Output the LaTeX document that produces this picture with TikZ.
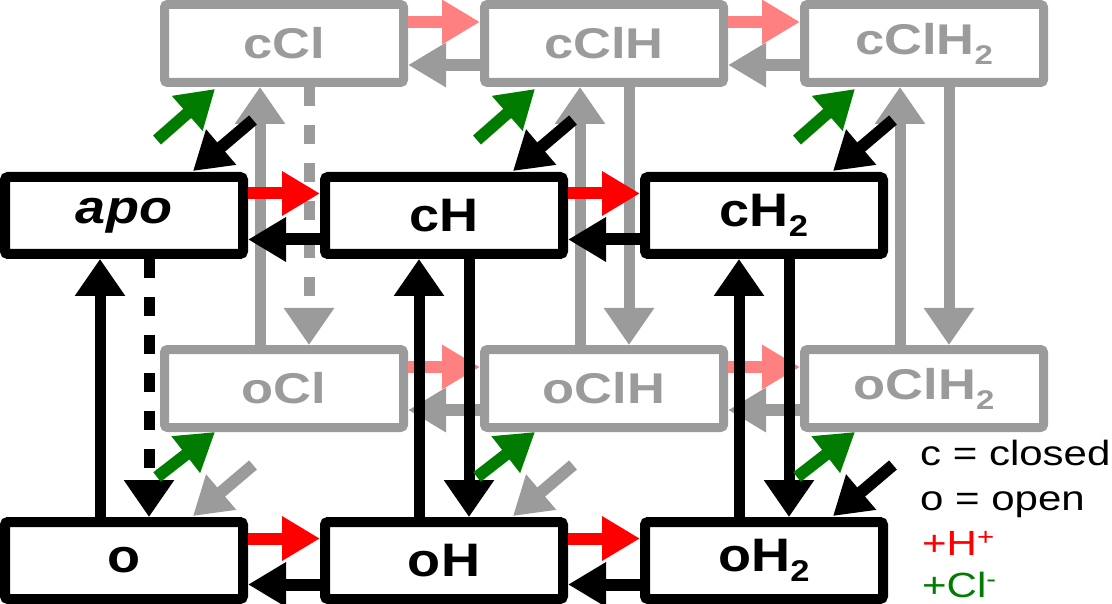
\documentclass[tikz,border=0pt]{standalone}
\usepackage{fontspec}
\setmainfont{Liberation Sans}
\usetikzlibrary{arrows.meta}
\definecolor{gr}{RGB}{155,155,155}
\definecolor{pk}{RGB}{255,128,128}
\definecolor{rd}{RGB}{255,0,0}
\definecolor{gn}{RGB}{0,125,0}
\newcommand{\dn}[2]{\raisebox{-10pt}{\fontsize{#1}{#1}\selectfont #2}}
\newcommand{\wb}[1]{\scalebox{1.15}[1]{#1}}
\newcommand{\wg}[1]{\scalebox{1.22}[1]{#1}}
\newcommand{\wl}[1]{\scalebox{1.2}[1]{#1}}
\tikzset{
  bbox/.style={draw=black, line width=10pt, fill=white, rounded corners=3pt,
    minimum width=238pt, minimum height=77pt, inner sep=0pt,
    font=\fontsize{47}{47}\selectfont\bfseries},
  gbox/.style={draw=gr, text=gr, line width=9pt, fill=white, rounded corners=3pt,
    minimum width=239pt, minimum height=78pt, inner sep=0pt,
    font=\fontsize{43}{43}\selectfont\bfseries},
  harr/.style={line width=12pt, -{Triangle[width=42pt,length=38pt]}},
  varr/.style={line width=11pt, -{Triangle[width=48pt,length=37pt]}},
  darr/.style={line width=12pt, -{Triangle[width=44pt,length=37pt]}},
  dsh/.style={dash pattern=on 19pt off 19pt},
  leg/.style={anchor=base west, inner sep=0pt, font=\fontsize{35}{35}\selectfont},
}
\begin{document}
\begin{tikzpicture}[x=1pt,y=-1pt]
\useasboundingbox (0,0) rectangle (1112,604);
% gray boxes
\node[gbox] (cCl)   at (284,43.5)  {\wg{cCl}};
\node[gbox] (cClH)  at (604,43.5)  {\wg{cClH}};
\node[gbox] (cClH2) at (924,43.5)  {\wg{cClH\dn{27}{2}}};
\node[gbox] (oCl)   at (284,388.5) {\wg{oCl}};
\node[gbox] (oClH)  at (604,388.5) {\wg{oClH}};
\node[gbox] (oClH2) at (924,388.5) {\wg{oClH\dn{27}{2}}};
% gray horizontal arrows
\foreach \a/\b in {cCl/cClH, cClH/cClH2, oCl/oClH, oClH/oClH2}{
  \draw[harr, pk] ([yshift=21.5pt]\a.east) -- ([yshift=21.5pt]\b.west);
  \draw[harr, gr] ([yshift=-21.5pt]\b.west) -- ([yshift=-21.5pt]\a.east);
}
% gray vertical arrows
\draw[varr, gr] ([xshift=-24pt]oCl.north) -- ([xshift=-24pt]cCl.south);
\draw[varr, gr, dsh] ([xshift=25pt]cCl.south) -- ([xshift=25pt]oCl.north);
\draw[varr, gr] ([xshift=-24pt]oClH.north) -- ([xshift=-24pt]cClH.south);
\draw[varr, gr] ([xshift=25pt]cClH.south) -- ([xshift=25pt]oClH.north);
\draw[varr, gr] ([xshift=-24pt]oClH2.north) -- ([xshift=-24pt]cClH2.south);
\draw[varr, gr] ([xshift=25pt]cClH2.south) -- ([xshift=25pt]oClH2.north);
% black boxes
\node[bbox] (apo) at (124,215.5) {\wb{\itshape apo}};
\node[bbox] (cH)  at (444,215.5) {\wb{cH}};
\node[bbox] (cH2) at (764,215.5) {\wb{cH\dn{30}{2}}};
\node[bbox] (o)   at (124,560.5) {\wb{o}};
\node[bbox] (oH)  at (444,560.5) {\wb{oH}};
\node[bbox] (oH2) at (764,560.5) {\wb{oH\dn{30}{2}}};
% black horizontal arrows
\foreach \a/\b in {apo/cH, cH/cH2, o/oH, oH/oH2}{
  \draw[harr, rd] ([yshift=22pt]\a.east) -- ([yshift=22pt]\b.west);
  \draw[harr, black] ([yshift=-24pt]\b.west) -- ([yshift=-24pt]\a.east);
}
% black vertical arrows
\draw[varr] ([xshift=-24pt]o.north) -- ([xshift=-24pt]apo.south);
\draw[varr, dsh] ([xshift=25pt]apo.south) -- ([xshift=25pt]o.north);
\draw[varr] ([xshift=-25pt]oH.north) -- ([xshift=-25pt]cH.south);
\draw[varr] ([xshift=25pt]cH.south) -- ([xshift=25pt]oH.north);
\draw[varr] ([xshift=-25pt]oH2.north) -- ([xshift=-25pt]cH2.south);
\draw[varr] ([xshift=25pt]cH2.south) -- ([xshift=25pt]oH2.north);
% diagonal arrows
\foreach \g/\b/\c in {cCl/apo/black, cClH/cH/black, cClH2/cH2/black, oCl/o/gr, oClH/oH/gr, oClH2/oH2/black}{
  \draw[darr, \c] ([xshift=129pt,yshift=52pt]\b.north) -- ([xshift=69pt,yshift=1pt]\b.north);
}
\foreach \g in {cCl, cClH, cClH2}{
  \draw[darr, gn] ([xshift=-127pt,yshift=-53pt]\g.south) -- ([xshift=-69pt,yshift=-2pt]\g.south);
}
\foreach \g in {oCl, oClH, oClH2}{
  \draw[darr, gn] ([xshift=-127pt,yshift=-45pt]\g.south) -- ([xshift=-69pt]\g.south);
}
% legend
\node[leg] (l1) at (920,465) {\wl{c = closed}};
\node[leg] (l2) at (920,510) {\wl{o = open}};
\node[leg, text=rd] (l3) at (922,555) {\wl{+H\textsuperscript{+}}};
\node[leg, text=gn] (l4) at (922,597) {\wl{+Cl\textsuperscript{-}}};
\end{tikzpicture}
\end{document}
